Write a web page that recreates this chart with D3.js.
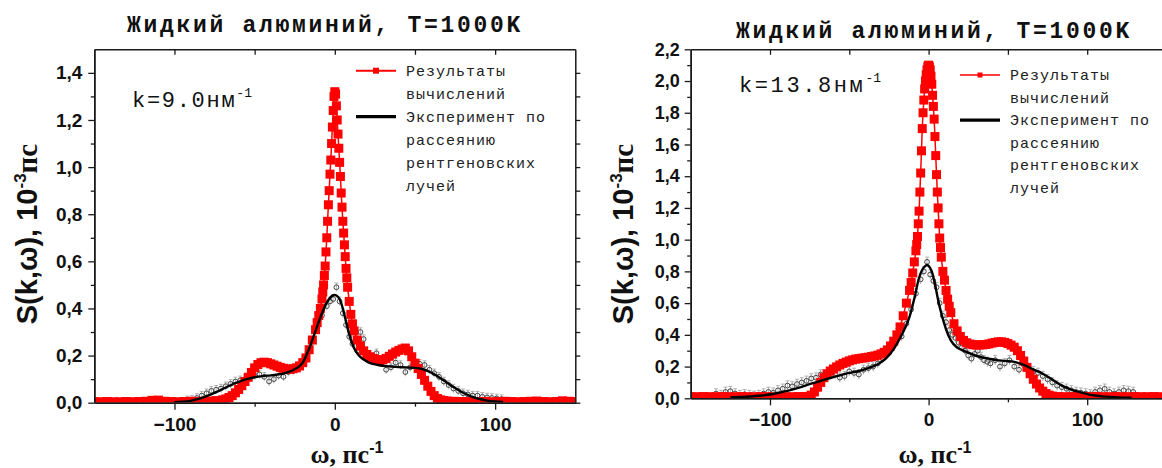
<!DOCTYPE html>
<html>
<head>
<meta charset="utf-8">
<script src="https://cdn.jsdelivr.net/npm/d3@7"></script>
<style>
  body { margin: 0; background: #fff; }
  svg { display: block; }
</style>
</head>
<body>
<svg width="1162" height="468"></svg>
<script>
// ---- data: [omega, S] ----
var title = "Жидкий алюминий, T=1000K";
var legendCalc = ["Результаты", "вычислений"];
var legendExp = ["Эксперимент по", "рассеянию", "рентгеновских", "лучей"];

var xTicks = [-100, 0, 100];
var xMinor = [-50, 50];
var yTicks9 = [0, 0.2, 0.4, 0.6, 0.8, 1.0, 1.2, 1.4];
var yTicks13 = [0, 0.2, 0.4, 0.6, 0.8, 1.0, 1.2, 1.4, 1.6, 1.8, 2.0, 2.2];

// k = 9.0 nm^-1, calculation
var calc9 = [
  [-150,0.004],[-146,0.004],[-142,0.005],[-138,0.004],[-134,0.004],[-130,0.005],[-126,0.004],[-122,0.005],
  [-118,0.006],[-114,0.010],[-110,0.011],[-106,0.006],[-102,0.005],[-98,0.004],[-94,0.005],[-90,0.006],
  [-86,0.005],[-82,0.006],[-78,0.007],[-74,0.009],[-70,0.012],
  [-68,0.016],[-66,0.022],[-64,0.030],[-62,0.042],[-60,0.056],[-58,0.072],[-56,0.090],[-54,0.108],
  [-52,0.128],[-50,0.148],[-48,0.162],[-46,0.170],[-44,0.172],[-42,0.170],[-40,0.165],[-38,0.160],
  [-36,0.155],[-34,0.150],[-32,0.146],[-30,0.143],[-28,0.142],[-26,0.144],[-24,0.148],[-22,0.156],
  [-20,0.170],[-18,0.190],[-16,0.225],[-14,0.266],
  [-12,0.31],[-11,0.34],[-10,0.37],[-9,0.40],
  [-8,0.44],[-7.5,0.47],[-7,0.50],[-6.5,0.54],[-6,0.58],[-5.5,0.64],[-5,0.70],[-4.5,0.77],[-4,0.84],
  [-3.5,0.90],[-3,0.97],[-2.5,1.03],[-2,1.10],[-1.5,1.17],[-1,1.24],[-0.5,1.30],[0,1.32],[0.5,1.31],
  [1,1.26],[1.5,1.20],[2,1.14],[2.5,1.08],[3,1.02],[3.5,0.96],[4,0.89],[4.5,0.83],[5,0.77],[5.5,0.72],
  [6,0.67],[6.5,0.62],[7,0.57],[7.5,0.53],[8,0.49],
  [9,0.43],[10,0.375],[11,0.335],[12,0.305],
  [14,0.266],[16,0.240],[18,0.220],[20,0.205],[22,0.195],[24,0.188],[26,0.183],[28,0.180],[30,0.182],
  [32,0.188],[34,0.197],[36,0.207],[38,0.215],[40,0.222],[42,0.228],[44,0.232],[46,0.220],[48,0.195],
  [50,0.168],[52,0.145],[54,0.120],[56,0.095],[58,0.070],[60,0.048],[62,0.030],[64,0.018],[66,0.012],
  [68,0.009],[70,0.007],
  [74,0.006],[78,0.005],[82,0.005],[86,0.004],[90,0.005],[94,0.005],[98,0.004],[102,0.005],[106,0.006],
  [110,0.005],[114,0.004],[118,0.005],[122,0.006],[126,0.007],[130,0.005],[134,0.004],[138,0.005],
  [142,0.008],[146,0.006],[150,0.005]
];

// k = 9.0 nm^-1, experiment fit line
var fit9 = [
  [-100,0.002],[-95,0.004],[-90,0.008],[-85,0.016],[-80,0.028],[-75,0.042],[-70,0.058],[-65,0.074],
  [-60,0.088],[-55,0.100],[-50,0.108],[-45,0.113],[-40,0.116],[-35,0.120],[-30,0.128],[-25,0.142],
  [-20,0.170],[-16,0.230],[-12,0.305],[-8,0.380],[-5,0.425],[-3,0.445],[-1,0.456],[0,0.457],[1,0.455],
  [3,0.440],[5,0.400],[7,0.345],[9,0.290],[12,0.232],[15,0.200],[18,0.183],[22,0.168],[27,0.160],
  [32,0.155],[38,0.152],[44,0.150],[50,0.148],[55,0.142],[60,0.128],[65,0.108],[70,0.085],[75,0.062],
  [80,0.042],[85,0.027],[90,0.016],[95,0.009],[100,0.005],[105,0.003]
];

// k = 9.0 nm^-1, experimental points
var expt9 = [
  [-92,0.010],[-89,0.012],[-86,0.020],[-83,0.030],[-80,0.040],[-77,0.050],[-74,0.055],[-71,0.060],
  [-68,0.070],[-65,0.080],[-62,0.090],[-59,0.095],[-56,0.100],[-53,0.105],[-50,0.115],[-47,0.120],
  [-44,0.110],[-41,0.090],[-38,0.100],[-35,0.115],[-32,0.110],[-29,0.130],[-26,0.135],[-23,0.155],
  [-20,0.175],[-17,0.215],[-14,0.260],[-11,0.320],[-8,0.370],[-5,0.410],[-3,0.430],[-1,0.440],
  [1,0.490],[3,0.430],[5,0.380],[7,0.330],[9,0.280],[11,0.250],[14,0.220],[16,0.300],[18,0.270],
  [20,0.200],[23,0.190],[26,0.210],[29,0.170],[32,0.140],[35,0.150],[38,0.170],[41,0.160],[44,0.130],
  [47,0.150],[50,0.155],[53,0.165],[56,0.160],[59,0.140],[62,0.125],[65,0.110],[68,0.090],[71,0.075],
  [74,0.060],[77,0.050],[80,0.040],[83,0.035],[86,0.030],[89,0.030],[92,0.025],[95,0.022],[98,0.020],
  [101,0.018],[104,0.015]
];

// k = 13.8 nm^-1, calculation
var calc13 = [
  [-150,0.010],[-146,0.010],[-142,0.011],[-138,0.010],[-134,0.010],[-130,0.011],[-126,0.010],[-122,0.010],
  [-118,0.011],[-114,0.010],[-110,0.010],[-106,0.011],[-102,0.010],[-98,0.010],[-94,0.011],[-90,0.010],
  [-86,0.010],[-82,0.011],[-78,0.011],
  [-76,0.012],[-74,0.020],[-72,0.040],[-70,0.070],[-68,0.100],[-66,0.130],[-64,0.155],[-62,0.172],
  [-60,0.185],[-58,0.198],[-56,0.210],[-54,0.220],[-52,0.228],[-50,0.236],[-48,0.242],[-46,0.247],
  [-44,0.250],[-42,0.253],[-40,0.256],[-38,0.259],[-36,0.263],[-34,0.267],[-32,0.272],[-30,0.280],
  [-28,0.290],[-26,0.305],[-24,0.330],[-22,0.360],[-20,0.400],[-18,0.450],[-16,0.520],[-14,0.600],
  [-12,0.68],[-11,0.73],[-10,0.79],[-9,0.86],[-8,0.93],
  [-7.5,0.97],[-7,1.02],[-6.5,1.10],[-6,1.18],[-5.5,1.30],[-5,1.42],[-4.5,1.56],[-4,1.70],[-3.5,1.80],
  [-3,1.88],[-2.5,1.95],[-2,2.00],[-1.5,2.04],[-1,2.07],[-0.5,2.09],[0,2.10],[0.5,2.09],[1,2.07],
  [1.5,2.03],[2,1.98],[2.5,1.91],[3,1.84],[3.5,1.76],[4,1.65],[4.5,1.53],[5,1.41],[5.5,1.30],[6,1.20],
  [6.5,1.10],[7,1.01],[7.5,0.95],[8,0.89],
  [9,0.80],[10,0.745],[11,0.68],[12,0.625],[13,0.58],[14,0.54],
  [16,0.470],[18,0.425],[20,0.390],[22,0.365],[24,0.350],[26,0.342],[28,0.338],[30,0.336],[32,0.336],
  [34,0.337],[36,0.339],[38,0.343],[40,0.348],[42,0.352],[44,0.356],[46,0.356],[48,0.352],[50,0.345],
  [52,0.335],[54,0.322],[56,0.300],[58,0.270],[60,0.235],[62,0.195],[64,0.155],[66,0.120],[68,0.090],
  [70,0.065],[72,0.045],[74,0.030],[76,0.020],[78,0.014],
  [82,0.011],[86,0.010],[90,0.010],[94,0.011],[98,0.010],[102,0.010],[106,0.011],[110,0.010],[114,0.010],
  [118,0.011],[122,0.010],[126,0.010],[130,0.011],[134,0.010],[138,0.010],[142,0.011],[146,0.010],[150,0.010]
];

// k = 13.8 nm^-1, experiment fit line
var fit13 = [
  [-125,0.005],[-115,0.010],[-105,0.018],[-98,0.027],[-92,0.040],[-86,0.055],[-80,0.072],[-74,0.092],
  [-68,0.110],[-62,0.128],[-56,0.145],[-50,0.160],[-44,0.172],[-38,0.190],[-32,0.215],[-27,0.250],
  [-22,0.310],[-18,0.380],[-15,0.440],[-12,0.515],[-9,0.630],[-6,0.760],[-4,0.810],[-2,0.835],
  [-1,0.840],[0,0.835],[2,0.800],[4,0.720],[6,0.620],[8,0.536],[11,0.435],[14,0.365],[18,0.320],
  [22,0.300],[27,0.280],[32,0.262],[38,0.250],[43,0.241],[48,0.236],[54,0.230],[60,0.210],[66,0.182],
  [72,0.155],[78,0.118],[84,0.080],[90,0.055],[96,0.037],[102,0.022],[108,0.014],[114,0.009],
  [120,0.006],[128,0.004]
];

// k = 13.8 nm^-1, experimental points
var expt13 = [
  [-134,0.030],[-131,0.020],[-128,0.040],[-125,0.045],[-122,0.030],[-119,0.020],[-116,0.025],[-113,0.020],
  [-110,0.015],[-107,0.020],[-104,0.030],[-101,0.040],[-98,0.035],[-95,0.050],[-92,0.060],[-89,0.080],
  [-86,0.075],[-83,0.090],[-80,0.100],[-77,0.110],[-74,0.125],[-71,0.130],[-68,0.150],[-65,0.140],
  [-62,0.160],[-59,0.150],[-56,0.130],[-53,0.140],[-50,0.170],[-47,0.160],[-44,0.150],[-41,0.180],
  [-38,0.190],[-35,0.200],[-32,0.220],[-29,0.250],[-26,0.300],[-23,0.350],[-20,0.410],[-17,0.390],
  [-14,0.470],[-11,0.560],[-8,0.660],[-5,0.750],[-3,0.800],[-1,0.860],[1,0.780],[3,0.740],[5,0.700],
  [7,0.600],[9,0.520],[11,0.480],[13,0.430],[15,0.400],[17,0.380],[19,0.350],[21,0.320],[23,0.300],
  [25,0.270],[27,0.250],[29,0.280],[31,0.300],[33,0.260],[35,0.240],[37,0.230],[39,0.220],[42,0.240],
  [45,0.200],[48,0.220],[51,0.240],[54,0.200],[57,0.180],[60,0.210],[63,0.190],[66,0.170],[69,0.160],
  [72,0.140],[75,0.120],[78,0.100],[81,0.080],[84,0.070],[87,0.060],[90,0.050],[93,0.040],[96,0.035],
  [99,0.030],[102,0.025],[105,0.040],[108,0.050],[111,0.060],[114,0.040],[117,0.030],[120,0.040],
  [123,0.050],[126,0.045],[129,0.040]
];

var svg = d3.select("svg");
var fmt = function(v){ return d3.format(".1f")(v).replace(".", ","); };

var panels = [
  {id: "p9", left: 94.3, right: 575.3, top: 49.3, bottom: 402.7, ymax: 1.5, yTicks: yTicks9,
   calc: calc9, fit: fit9, expt: expt9, err: 0.018, k: "9.0",
   titleX: 127, titleY: 32, kX: 132, kY: 107, kSpacing: 1.7,
   legX: 356, legY: 70.7, legStep: 23, legMarker: 6, legRedW: 2,
   yLabelX: 37, xLabelX: 347, yPad: 6, yFont: 19},
  {id: "p13", left: 690.7, right: 1166.5, top: 49.3, bottom: 398.3, ymax: 2.2, yTicks: yTicks13,
   calc: calc13, fit: fit13, expt: expt13, err: 0.03, k: "13.8",
   titleX: 736, titleY: 38, kX: 739, kY: 92, kSpacing: 2.6,
   legX: 960, legY: 75, legStep: 22.6, legMarker: 5, legRedW: 1.5,
   yLabelX: 633, xLabelX: 935, yPad: 5, yFont: 18}
];

panels.forEach(drawPanel);

function drawPanel(p){
  var x = d3.scaleLinear().domain([-150, 150]).range([p.left, p.right]);
  var y = d3.scaleLinear().domain([0, p.ymax]).range([p.bottom, p.top]);
  var yMinor = d3.range(1, Math.round(p.ymax * 10) + 1, 2).map(function(d){ return d / 10; })
                 .filter(function(d){ return d < p.ymax - 0.001; });
  var yAll = yMinor.concat(p.yTicks).filter(function(d){ return d < p.ymax - 0.001; });

  var g = svg.append("g").attr("class", p.id);

  g.append("clipPath").attr("id", "clip-" + p.id)
    .append("rect")
    .attr("x", p.left).attr("y", p.top)
    .attr("width", p.right - p.left).attr("height", p.bottom - p.top);

  var plot = g.append("g").attr("clip-path", "url(#clip-" + p.id + ")");

  // experimental points with error bars
  var ex = plot.append("g");
  ex.selectAll("line.bar")
    .data(p.expt)
    .enter().append("line")
    .attr("class", "bar")
    .attr("x1", function(d){ return x(d[0]); })
    .attr("x2", function(d){ return x(d[0]); })
    .attr("y1", function(d){ return y(d[1] - p.err); })
    .attr("y2", function(d){ return y(d[1] + p.err); })
    .attr("stroke", "#a0a0a0").attr("stroke-width", 0.8);
  ex.selectAll("line.cap")
    .data(p.expt)
    .enter().append("line")
    .attr("class", "cap")
    .attr("x1", function(d){ return x(d[0]) - 2; })
    .attr("x2", function(d){ return x(d[0]) + 2; })
    .attr("y1", function(d){ return y(d[1] + p.err); })
    .attr("y2", function(d){ return y(d[1] + p.err); })
    .attr("stroke", "#a0a0a0").attr("stroke-width", 0.8);
  ex.selectAll("circle")
    .data(p.expt)
    .enter().append("circle")
    .attr("cx", function(d){ return x(d[0]); })
    .attr("cy", function(d){ return y(d[1]); })
    .attr("r", 2.4)
    .attr("fill", "none")
    .attr("stroke", "#444").attr("stroke-width", 1);

  // calculation: red line with square markers
  plot.append("path")
    .datum(p.calc)
    .attr("fill", "none")
    .attr("stroke", "#ff0000")
    .attr("stroke-width", 1.5)
    .attr("d", d3.line().x(function(d){ return x(d[0]); }).y(function(d){ return y(d[1]); }));

  plot.append("g").selectAll("rect")
    .data(p.calc)
    .enter().append("rect")
    .attr("x", function(d){ return x(d[0]) - 4.5; })
    .attr("y", function(d){ return y(d[1]) - 4.5; })
    .attr("width", 9).attr("height", 9)
    .attr("fill", "#ff0000");

  // experiment fit line
  plot.append("path")
    .datum(p.fit)
    .attr("fill", "none")
    .attr("stroke", "#000")
    .attr("stroke-width", 2.4)
    .attr("d", d3.line().curve(d3.curveMonotoneX)
            .x(function(d){ return x(d[0]); }).y(function(d){ return y(d[1]); }));

  // axes
  var font = "'Liberation Sans', Arial, sans-serif";
  var ax = g.append("g").attr("class", "axes");

  var left = ax.append("g").attr("transform", "translate(" + p.left + ",0)")
    .call(d3.axisLeft(y).tickValues(p.yTicks).tickSize(6).tickSizeOuter(0).tickPadding(p.yPad).tickFormat(fmt));
  ax.append("g").attr("transform", "translate(" + p.left + ",0)")
    .call(d3.axisLeft(y).tickValues(yMinor).tickSize(3.5).tickSizeOuter(0).tickFormat(""));

  var bottom = ax.append("g").attr("transform", "translate(0," + p.bottom + ")")
    .call(d3.axisBottom(x).tickValues(xTicks).tickSize(7).tickSizeOuter(0).tickPadding(7.5).tickFormat(d3.format("d")));
  ax.append("g").attr("transform", "translate(0," + p.bottom + ")")
    .call(d3.axisBottom(x).tickValues(xMinor).tickSize(4).tickSizeOuter(0).tickFormat(""));

  ax.append("g").attr("transform", "translate(0," + p.top + ")")
    .call(d3.axisTop(x).tickValues(xTicks.concat(xMinor)).tickSize(-5.5).tickSizeOuter(0).tickFormat(""));

  ax.append("g").attr("transform", "translate(" + p.right + ",0)")
    .call(d3.axisRight(y).tickValues(yAll).tickSize(5).tickSizeOuter(0).tickFormat(""));

  ax.selectAll("path.domain").attr("stroke", "#1a1a1a").attr("stroke-width", 1.5);
  ax.selectAll(".tick line").attr("stroke", "#1a1a1a").attr("stroke-width", 1.3);
  bottom.select("path.domain").attr("stroke", "#555");
  ax.selectAll(".tick text")
    .attr("font-family", font)
    .attr("font-size", 19)
    .attr("font-weight", "bold")
    .attr("fill", "#111");
  left.selectAll(".tick text").attr("font-size", p.yFont);

  // title
  svg.append("text")
    .attr("x", p.titleX).attr("y", p.titleY)
    .attr("font-family", "'Liberation Mono', monospace")
    .attr("font-weight", "bold")
    .attr("font-size", 23)
    .attr("letter-spacing", 2.7)
    .attr("fill", "#111")
    .text(title);

  // k label
  var kt = svg.append("text")
    .attr("x", p.kX).attr("y", p.kY)
    .attr("font-family", "'Liberation Mono', monospace")
    .attr("font-size", 22)
    .attr("letter-spacing", p.kSpacing)
    .attr("fill", "#111");
  kt.append("tspan").text("k=" + p.k + "нм");
  kt.append("tspan").attr("font-size", 13).attr("dy", -10).attr("letter-spacing", 0).text("-1");

  // legend
  var lg = svg.append("g").attr("font-family", "'Liberation Mono', monospace")
    .attr("font-size", 15).attr("letter-spacing", 1).attr("fill", "#222");
  lg.append("line")
    .attr("x1", p.legX).attr("x2", p.legX + 40)
    .attr("y1", p.legY).attr("y2", p.legY)
    .attr("stroke", "#ff0000").attr("stroke-width", p.legRedW);
  lg.append("rect")
    .attr("x", p.legX + 20 - p.legMarker / 2).attr("y", p.legY - p.legMarker / 2)
    .attr("width", p.legMarker).attr("height", p.legMarker)
    .attr("fill", "#ff0000");
  lg.append("line")
    .attr("x1", p.legX).attr("x2", p.legX + 40)
    .attr("y1", p.legY + 2 * p.legStep).attr("y2", p.legY + 2 * p.legStep)
    .attr("stroke", "#000").attr("stroke-width", 3.2);
  legendCalc.concat(legendExp).forEach(function(s, i){
    lg.append("text")
      .attr("x", p.legX + 50)
      .attr("y", p.legY + i * p.legStep + 5)
      .text(s);
  });

  // axis titles
  var yl = svg.append("text")
    .attr("transform", "translate(" + p.yLabelX + ",234) rotate(-90)")
    .attr("text-anchor", "middle")
    .attr("font-family", font)
    .attr("font-weight", "bold")
    .attr("font-size", 29)
    .attr("fill", "#111");
  yl.append("tspan").text("S(k,ω), 10");
  yl.append("tspan").attr("font-size", 17).attr("dy", -11).text("-3");
  yl.append("tspan").attr("dy", 11).attr("font-family", "'Liberation Serif', serif").text("пс");

  var xl = svg.append("text")
    .attr("x", p.xLabelX).attr("y", 463)
    .attr("text-anchor", "middle")
    .attr("font-family", "'Liberation Serif', serif")
    .attr("font-weight", "bold")
    .attr("font-size", 26)
    .attr("fill", "#111");
  xl.append("tspan").text("ω, пс");
  xl.append("tspan").attr("font-family", font).attr("font-size", 16).attr("dy", -10).text("-1");
}
</script>
</body>
</html>
